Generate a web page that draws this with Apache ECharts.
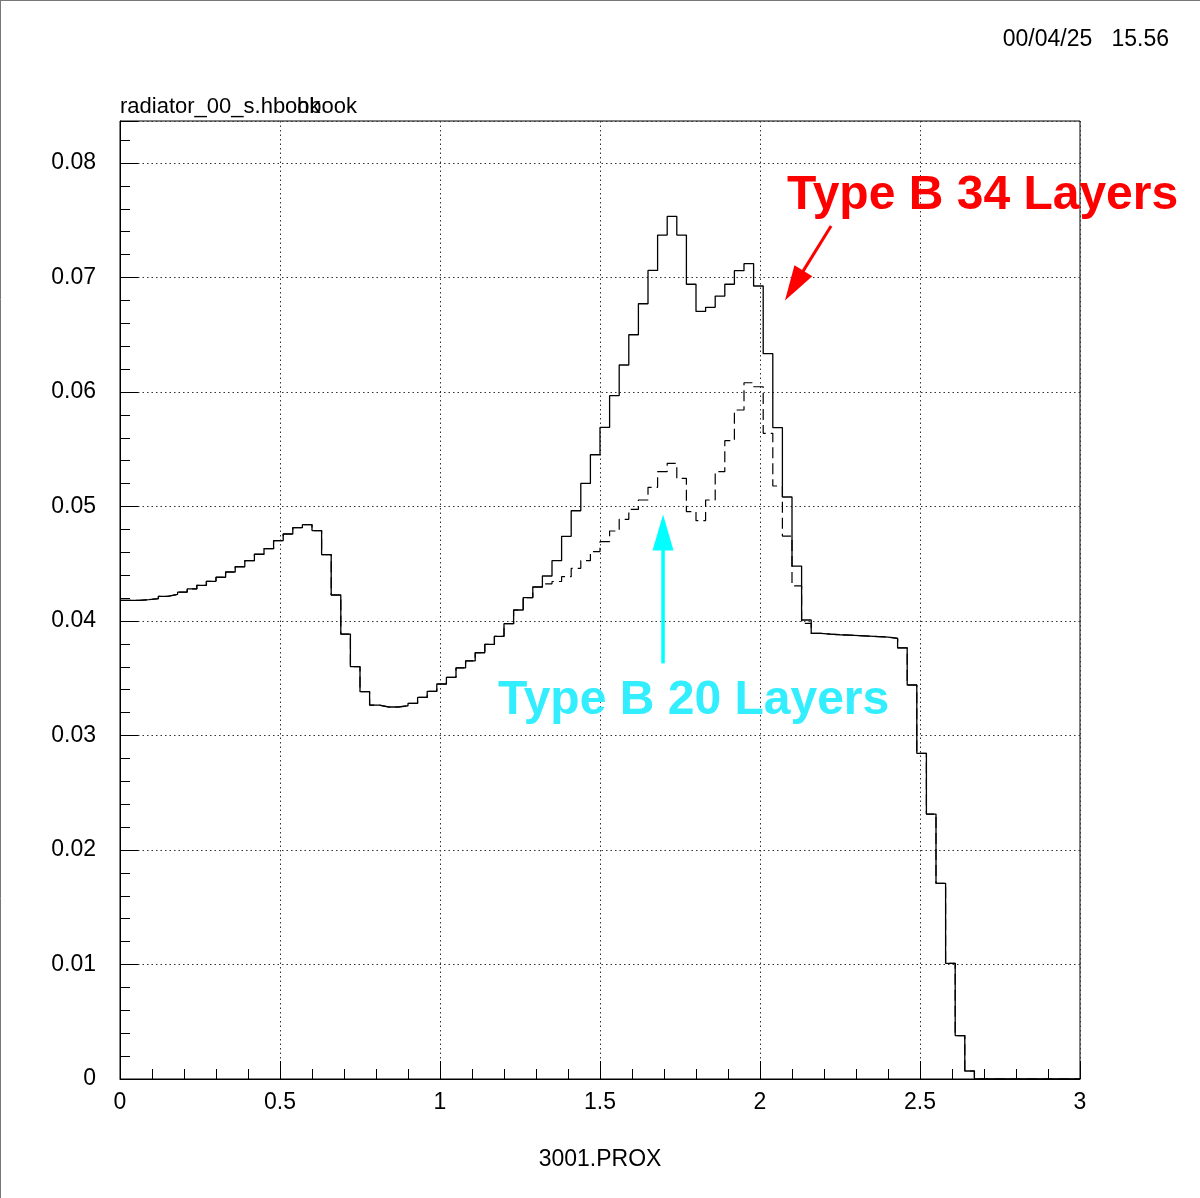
<!DOCTYPE html>
<html>
<head>
<meta charset="utf-8">
<script src="https://cdn.jsdelivr.net/npm/echarts@6/dist/echarts.min.js"></script>
<style>
html,body{margin:0;padding:0;background:#fff;}
#chart{width:1200px;height:1198px;}
</style>
</head>
<body>
<div id="chart"></div>
<script>
// Histogram definition: 100 bins of width 0.03 from 0 to 3
const binWidth = 0.03;
const xTickLabels = ["0", "0.5", "1", "1.5", "2", "2.5", "3"];
const titleText = "radiator_00_s.hbook";
const dateText = "00/04/25   15.56";
const xAxisTitle = "3001.PROX";
const label34 = "Type B 34 Layers";
const label20 = "Type B 20 Layers";

// Type B 34 Layers (solid)
const solidValues = [
  0.0418, 0.0418, 0.04186, 0.04195, 0.04216, 0.04233, 0.04253, 0.0428, 0.04312, 0.04347,
  0.04382, 0.04428, 0.04474, 0.04527, 0.04583, 0.04632, 0.04702, 0.0476, 0.04815, 0.04841,
  0.0479, 0.0458, 0.04227, 0.03886, 0.03601, 0.03383, 0.03266, 0.03249, 0.03249, 0.0326,
  0.03281, 0.03333, 0.03386, 0.0345, 0.03508, 0.0359, 0.03651, 0.03723, 0.03796, 0.03866,
  0.03977, 0.04096, 0.04205, 0.04297, 0.04393, 0.04527, 0.0474, 0.04963, 0.05202, 0.05452,
  0.05691, 0.05968, 0.06236, 0.065, 0.06771, 0.07062, 0.07371, 0.07534, 0.07371, 0.06941,
  0.06704, 0.0674, 0.06838, 0.06941, 0.0706, 0.07121, 0.06926, 0.06335, 0.05689, 0.05083,
  0.0448, 0.04009, 0.03892, 0.03885, 0.0388, 0.03876, 0.03872, 0.03868, 0.03864, 0.0386,
  0.03848, 0.03766, 0.03441, 0.02844, 0.02314, 0.01709, 0.0101, 0.00379, 0.0007, 0,
  0, 0, 0, 0, 0, 0, 0, 0, 0, 0
];

// Type B 20 Layers (dashed)
const dashedValues = [
  0.0418, 0.0418, 0.04186, 0.04195, 0.04216, 0.04233, 0.04253, 0.0428, 0.04312, 0.04347,
  0.04382, 0.04428, 0.04474, 0.04527, 0.04583, 0.04632, 0.04702, 0.0476, 0.04815, 0.04841,
  0.0479, 0.0458, 0.04227, 0.03886, 0.03601, 0.03383, 0.03266, 0.03249, 0.03249, 0.0326,
  0.03281, 0.03333, 0.03386, 0.0345, 0.03508, 0.0359, 0.03651, 0.03723, 0.03796, 0.03866,
  0.03977, 0.04096, 0.04205, 0.04297, 0.04325, 0.04345, 0.04387, 0.0446, 0.04527, 0.04606,
  0.04693, 0.04786, 0.04888, 0.04975, 0.05057, 0.05168, 0.05304, 0.05377, 0.05246, 0.04955,
  0.04876, 0.05057, 0.05304, 0.05575, 0.05843, 0.06081, 0.06046, 0.05639, 0.05179, 0.04742,
  0.04306, 0.0398, 0.03892, 0.03885, 0.0388, 0.03876, 0.03872, 0.03868, 0.03864, 0.0386,
  0.03848, 0.03766, 0.03441, 0.02844, 0.02314, 0.01709, 0.0101, 0.00379, 0.0007, 0,
  0, 0, 0, 0, 0, 0, 0, 0, 0, 0
];

// Annotation anchors in data space
const arrow34 = { from: [2.222, 0.0745], to: [2.078, 0.0680] };
const arrow20 = { from: [1.697, 0.0363], to: [1.697, 0.0493] };
const text34Pos = [2.084, 0.07712];
const text20Pos = [1.181, 0.03302];

function toSteps(vals) {
  const pts = vals.map((v, i) => [+(i * binWidth).toFixed(4), v]);
  pts.push([+(vals.length * binWidth).toFixed(4), vals[vals.length - 1]]);
  return pts;
}

const FONT = "Liberation Sans, Arial, sans-serif";
const chart = echarts.init(document.getElementById('chart'), null, { renderer: 'canvas' });

const dotted = { color: '#333', type: [1.5, 3], width: 1 };

chart.setOption({
  animation: false,
  backgroundColor: '#fff',
  grid: { left: 120, right: 120, top: 121, bottom: 119, show: true, borderColor: '#000', borderWidth: 1, backgroundColor: 'transparent' },
  xAxis: {
    type: 'value', min: 0, max: 3, interval: 0.5,
    axisLine: { show: true, onZero: false, lineStyle: { color: '#000', width: 1 } },
    axisTick: { show: true, inside: true, length: 18, lineStyle: { color: '#000' } },
    minorTick: { show: true, splitNumber: 5, length: 10, lineStyle: { color: '#000' } },
    splitLine: { show: true, lineStyle: dotted },
    axisLabel: {
      margin: 12, color: '#000', fontFamily: FONT, fontSize: 23,
      formatter: (v) => { const i = Math.round(v / 0.5); return xTickLabels[i] !== undefined ? xTickLabels[i] : ''; }
    }
  },
  yAxis: {
    type: 'value', min: 0, max: 0.08367, interval: 0.01,
    axisLine: { show: true, onZero: false, lineStyle: { color: '#000', width: 1 } },
    axisTick: { show: true, inside: true, length: 18, lineStyle: { color: '#000' } },
    minorTick: { show: true, splitNumber: 5, length: 10, lineStyle: { color: '#000' } },
    splitLine: { show: true, lineStyle: dotted },
    axisLabel: {
      margin: 24, color: '#000', fontFamily: FONT, fontSize: 23, showMaxLabel: false,
      padding: [3, 0, 0, 0],
      formatter: (v) => (v > 0.0805 ? '' : (v === 0 ? '0' : (+v.toFixed(2)).toString()))
    }
  },
  series: [
    {
      name: label20, type: 'line', step: 'end', symbol: 'none', silent: true,
      data: toSteps(dashedValues),
      lineStyle: { color: '#000', width: 1.2, type: [11, 5] }
    },
    {
      name: label34, type: 'line', step: 'end', symbol: 'none', silent: true,
      data: toSteps(solidValues),
      lineStyle: { color: '#000', width: 1.3 }
    }
  ]
});

function px(p) { return chart.convertToPixel({ gridIndex: 0 }, p); }
function arrowGraphics(a, color, headLen, headHalf, width) {
  const f = px(a.from), t = px(a.to);
  const dx = t[0] - f[0], dy = t[1] - f[1];
  const L = Math.sqrt(dx * dx + dy * dy);
  const ux = dx / L, uy = dy / L;
  const bx = t[0] - ux * headLen, by = t[1] - uy * headLen;
  const nx = -uy, ny = ux;
  return [
    { type: 'line', shape: { x1: f[0], y1: f[1], x2: bx + ux * 2, y2: by + uy * 2 }, style: { stroke: color, lineWidth: width }, silent: true, z: 100 },
    { type: 'polygon', shape: { points: [[t[0], t[1]], [bx + nx * headHalf, by + ny * headHalf], [bx - nx * headHalf, by - ny * headHalf]] }, style: { fill: color }, silent: true, z: 100 }
  ];
}

const p34 = px(text34Pos), p20 = px(text20Pos);
const graphics = [
  // outer frame edges
  { type: 'line', shape: { x1: 0.5, y1: 0, x2: 0.5, y2: 1198 }, style: { stroke: '#777', lineWidth: 1 }, silent: true },
  { type: 'line', shape: { x1: 0, y1: 0.5, x2: 1200, y2: 0.5 }, style: { stroke: '#777', lineWidth: 1 }, silent: true },
  { type: 'text', x: 1169, y: 40, style: { text: dateText, fill: '#000', font: '23px ' + FONT, textAlign: 'right', textVerticalAlign: 'middle' }, silent: true },
  { type: 'text', x: 120, y: 107, style: { text: titleText, fill: '#000', font: '22px ' + FONT, textAlign: 'left', textVerticalAlign: 'middle' }, silent: true },
  { type: 'text', x: 297, y: 107, style: { text: 'hbook', fill: '#000', font: '22px ' + FONT, textAlign: 'left', textVerticalAlign: 'middle' }, silent: true },
  { type: 'text', x: 600, y: 1160, style: { text: xAxisTitle, fill: '#000', font: '23px ' + FONT, textAlign: 'center', textVerticalAlign: 'middle' }, silent: true },
  { type: 'text', x: p34[0], y: p34[1], style: { text: label34, fill: '#ff0000', font: 'bold 48px ' + FONT, textAlign: 'left', textVerticalAlign: 'middle' }, silent: true, z: 100 },
  { type: 'text', x: p20[0], y: p20[1], style: { text: label20, fill: '#33eeff', font: 'bold 48px ' + FONT, textAlign: 'left', textVerticalAlign: 'middle' }, silent: true, z: 100 }
].concat(arrowGraphics(arrow34, '#ff0000', 35, 10.5, 3))
 .concat(arrowGraphics(arrow20, '#00ffff', 36, 10.5, 3.5));

chart.setOption({ graphic: graphics });
</script>
</body>
</html>
